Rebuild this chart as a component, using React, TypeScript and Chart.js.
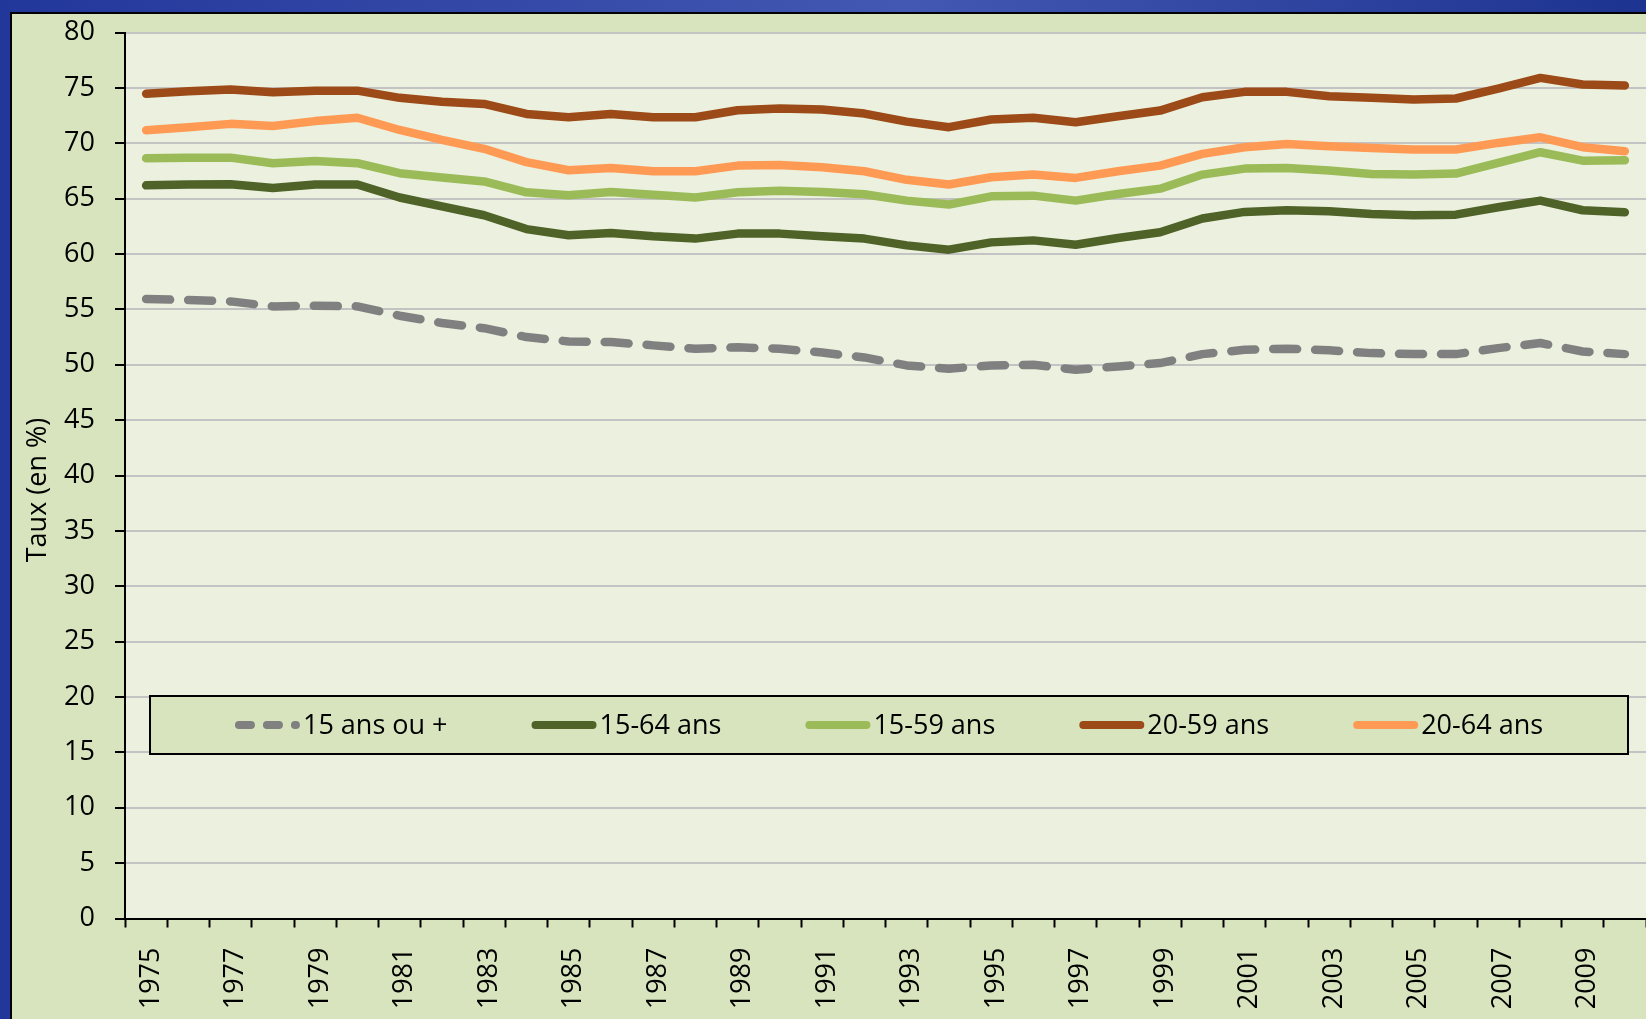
import React, { useEffect, useRef } from "react";
import { Chart, registerables } from "chart.js";

Chart.register(...registerables);

const YEARS = [
  "1975", "1976", "1977", "1978", "1979", "1980", "1981", "1982", "1983", "1984",
  "1985", "1986", "1987", "1988", "1989", "1990", "1991", "1992", "1993", "1994",
  "1995", "1996", "1997", "1998", "1999", "2000", "2001", "2002", "2003", "2004",
  "2005", "2006", "2007", "2008", "2009", "2010",
];

const SERIES_LABELS = ["15 ans ou +", "15-64 ans", "15-59 ans", "20-59 ans", "20-64 ans"];

const S_15_PLUS = [
  55.93, 55.85, 55.72, 55.27, 55.33, 55.27, 54.43, 53.77, 53.3, 52.5,
  52.1, 52.05, 51.75, 51.45, 51.57, 51.45, 51.1, 50.66, 49.94, 49.64,
  49.94, 50.0, 49.55, 49.85, 50.15, 50.96, 51.35, 51.45, 51.3, 51.05,
  50.96, 50.96, 51.5, 51.96, 51.2, 50.96,
];
const S_15_64 = [
  66.2, 66.27, 66.3, 65.96, 66.27, 66.27, 65.1, 64.3, 63.5, 62.25,
  61.69, 61.9, 61.6, 61.39, 61.84, 61.84, 61.6, 61.39, 60.78, 60.39,
  61.05, 61.23, 60.84, 61.45, 61.96, 63.2, 63.8, 63.95, 63.86, 63.61,
  63.49, 63.55, 64.22, 64.82, 63.95, 63.77,
];
const S_15_59 = [
  68.64, 68.7, 68.7, 68.2, 68.4, 68.2, 67.3, 66.9, 66.55, 65.57,
  65.3, 65.6, 65.36, 65.1, 65.57, 65.7, 65.6, 65.4, 64.82, 64.46,
  65.21, 65.27, 64.82, 65.42, 65.9, 67.17, 67.71, 67.77, 67.53, 67.23,
  67.17, 67.26, 68.22, 69.19, 68.43, 68.46,
];
const S_20_59 = [
  74.46, 74.7, 74.85, 74.6, 74.75, 74.75, 74.1, 73.75, 73.55, 72.65,
  72.35, 72.65, 72.35, 72.35, 72.98, 73.13, 73.04, 72.68, 71.95, 71.45,
  72.14, 72.3, 71.9, 72.44, 72.95, 74.16, 74.64, 74.64, 74.25, 74.1,
  73.95, 74.04, 74.94, 75.9, 75.3, 75.21,
];
const S_20_64 = [
  71.17, 71.45, 71.75, 71.55, 72.0, 72.3, 71.2, 70.3, 69.5, 68.3,
  67.56, 67.77, 67.47, 67.47, 67.98, 68.04, 67.83, 67.47, 66.7, 66.27,
  66.93, 67.17, 66.87, 67.47, 67.98, 69.04, 69.64, 69.94, 69.73, 69.58,
  69.43, 69.43, 70.03, 70.54, 69.64, 69.28,
];

const SERIES_VALUES = [S_15_PLUS, S_15_64, S_15_59, S_20_59, S_20_64];
const SERIES_COLORS = ["#808080", "#4f6228", "#9bbb59", "#9c4a17", "#ff9a55"];
const SERIES_DASHED = [true, false, false, false, false];

const Y_TITLE = "Taux (en %)";
const Y_MIN = 0;
const Y_MAX = 80;
const Y_STEP = 5;

const FONT = "'Open Sans', 'Noto Sans', sans-serif";
const W = 1646;
const H = 1019;

const backgroundPlugin = {
  id: "backgroundPanels",
  beforeDraw(chart: any) {
    const { ctx, width, height, chartArea } = chart;
    ctx.save();
    const g = ctx.createLinearGradient(0, 0, width, 0);
    g.addColorStop(0, "#22379a");
    g.addColorStop(0.55, "#4358b2");
    g.addColorStop(1, "#1d3390");
    ctx.fillStyle = g;
    ctx.fillRect(0, 0, width, height);
    ctx.fillStyle = "#d7e4bd";
    ctx.fillRect(10, 12, width - 10, height - 12);
    ctx.strokeStyle = "#000";
    ctx.lineWidth = 2;
    ctx.beginPath();
    ctx.moveTo(11, height);
    ctx.lineTo(11, 13);
    ctx.lineTo(width, 13);
    ctx.stroke();
    ctx.fillStyle = "#ebf1de";
    ctx.fillRect(
      chartArea.left,
      chartArea.top,
      chartArea.right - chartArea.left,
      chartArea.bottom - chartArea.top
    );
    ctx.restore();
  },
};

const overlayPlugin = {
  id: "overlayLegendTitle",
  afterDraw(chart: any) {
    const { ctx, chartArea } = chart;
    ctx.save();
    // y axis title
    ctx.fillStyle = "#000";
    ctx.font = `27px ${FONT}`;
    ctx.textAlign = "center";
    ctx.textBaseline = "middle";
    ctx.translate(38, 490);
    ctx.rotate(-Math.PI / 2);
    ctx.fillText(Y_TITLE, 0, 0);
    ctx.restore();

    // legend box
    ctx.save();
    const bx = chartArea.left + 25;
    const bw = chartArea.right - 18 - bx;
    const by = 696;
    const bh = 58;
    ctx.fillStyle = "#d7e4bd";
    ctx.fillRect(bx, by, bw, bh);
    ctx.strokeStyle = "#000";
    ctx.lineWidth = 2;
    ctx.strokeRect(bx, by, bw, bh);

    ctx.font = `27px ${FONT}`;
    ctx.textBaseline = "middle";
    ctx.textAlign = "left";
    const sample = 64;
    const gap = 4;
    const spacing = 84;
    const widths = SERIES_LABELS.map((l) => ctx.measureText(l).width);
    const total =
      widths.reduce((a, b) => a + b, 0) +
      SERIES_LABELS.length * (sample + gap) +
      (SERIES_LABELS.length - 1) * spacing;
    let x = bx + bw / 2 - total / 2;
    const cy = by + bh / 2;
    SERIES_LABELS.forEach((label, i) => {
      ctx.save();
      ctx.strokeStyle = SERIES_COLORS[i];
      ctx.lineWidth = 8;
      ctx.lineCap = "round";
      ctx.setLineDash(SERIES_DASHED[i] ? [12, 16] : []);
      ctx.beginPath();
      ctx.moveTo(x + 4, cy);
      ctx.lineTo(x + sample - 3, cy);
      ctx.stroke();
      ctx.restore();
      ctx.fillStyle = "#000";
      ctx.fillText(label, x + sample + gap, cy + 1);
      x += sample + gap + widths[i] + spacing;
    });
    ctx.restore();
  },
};

export default function App() {
  const canvasRef = useRef<HTMLCanvasElement | null>(null);

  useEffect(() => {
    document.body.style.margin = "0";
    const canvas = canvasRef.current;
    if (!canvas) return;
    Chart.defaults.font.family = FONT;
    Chart.defaults.color = "#000";

    const datasets = SERIES_LABELS.map((label, i) => ({
      label,
      data: SERIES_VALUES[i],
      borderColor: SERIES_COLORS[i],
      backgroundColor: SERIES_COLORS[i],
      borderWidth: 8.5,
      borderDash: SERIES_DASHED[i] ? [24, 18] : [],
      borderCapStyle: "round" as const,
      borderJoinStyle: "round" as const,
      pointRadius: 0,
      pointHoverRadius: 0,
      tension: 0,
      fill: false,
    }));

    const chart = new Chart(canvas, {
      type: "line",
      data: { labels: YEARS, datasets },
      options: {
        responsive: false,
        animation: false,
        devicePixelRatio: 1,
        layout: { padding: { top: 32.5, left: 0, right: 0, bottom: 0 } },
        plugins: {
          legend: { display: false },
          tooltip: { enabled: false },
        },
        scales: {
          x: {
            type: "category",
            offset: true,
            grid: {
              offset: true,
              drawOnChartArea: false,
              drawTicks: true,
              tickLength: 9,
              tickColor: "#000",
              tickWidth: 2,
            },
            border: { display: true, color: "#000", width: 2 },
            ticks: {
              autoSkip: false,
              maxRotation: 90,
              minRotation: 90,
              padding: 20,
              labelOffset: 5,
              color: "#000",
              font: { size: 27, family: FONT },
              callback: (_v: any, idx: number) => (idx % 2 === 0 ? YEARS[idx] : ""),
            },
            afterFit: (scale: any) => {
              scale.height = H - 918.5;
              scale.paddingLeft = 0;
              scale.paddingRight = 0;
            },
          },
          y: {
            min: Y_MIN,
            max: Y_MAX,
            grid: {
              color: "#c3c3c3",
              lineWidth: 2,
              drawTicks: true,
              tickLength: 10,
              tickColor: "#000",
              tickWidth: 2,
            },
            border: { display: true, color: "#000", width: 2 },
            ticks: {
              stepSize: Y_STEP,
              padding: 20,
              color: "#000",
              font: { size: 27, family: FONT },
            },
            title: { display: false, text: Y_TITLE },
            afterFit: (scale: any) => {
              scale.width = 125;
              scale.paddingTop = 0;
              scale.paddingBottom = 0;
            },
          },
        },
      },
      plugins: [backgroundPlugin, overlayPlugin],
    });

    return () => {
      chart.destroy();
    };
  }, []);

  return (
    <div style={{ position: "fixed", left: 0, top: 0, width: W, height: H, overflow: "hidden" }}>
      <canvas ref={canvasRef} width={W} height={H} style={{ display: "block", width: W, height: H }} />
    </div>
  );
}
